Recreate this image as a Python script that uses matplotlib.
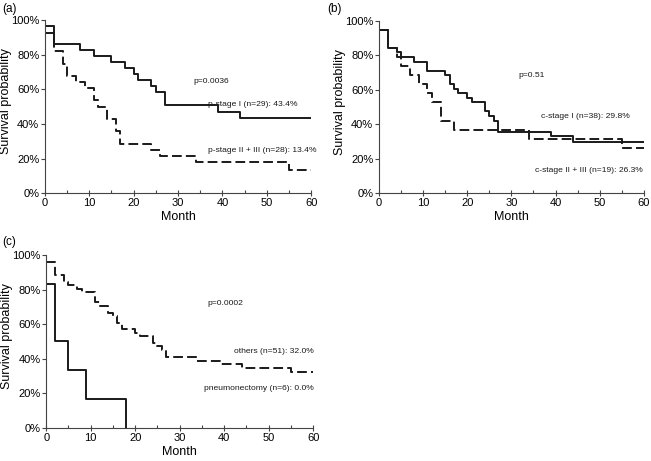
"""Kaplan-Meier style survival curves, three panels (a), (b), (c)."""
import matplotlib
matplotlib.use("Agg")
import matplotlib.pyplot as plt
from matplotlib.ticker import MultipleLocator, PercentFormatter

plt.rcParams["font.family"] = ["Liberation Sans", "DejaVu Sans"]
plt.rcParams["lines.scale_dashes"] = False

# ---- data (month of step, survival % after step) ----
a_solid_t = [0, 2, 8, 11, 15, 18, 20, 21, 24, 25, 27, 39, 44, 60]
a_solid_s = [96.6, 86.2, 82.8, 79.3, 75.9, 72.4, 69.0, 65.5, 62.1, 58.6, 50.8, 47.0, 43.4, 43.4]
a_dash_t = [0, 2, 4, 5, 7, 9, 11, 12, 14, 16, 17, 24, 26, 34, 55, 60]
a_dash_s = [92.9, 82.1, 75.0, 67.9, 64.3, 60.7, 53.6, 50.0, 42.9, 35.7, 28.6, 25.0, 21.4, 17.9, 13.4, 13.4]

b_solid_t = [0, 2, 4, 5, 8, 11, 15, 16, 17, 18, 20, 21, 24, 25, 26, 27, 39, 44, 60]
b_solid_s = [94.7, 84.2, 81.6, 78.9, 76.3, 71.1, 68.4, 63.2, 60.5, 57.9, 55.3, 52.6, 47.4, 44.7,
             42.1, 35.6, 33.0, 29.8, 29.8]
b_dash_t = [0, 2, 4, 5, 7, 9, 11, 12, 14, 17, 34, 55, 60]
b_dash_s = [94.7, 84.2, 78.9, 73.7, 68.4, 63.2, 57.9, 52.6, 42.1, 36.8, 31.6, 26.3, 26.3]

c_solid_t = [0, 2, 5, 9, 18]
c_solid_s = [83.3, 50.0, 33.3, 16.7, 0.0]
c_dash_t = [0, 2, 4, 5, 7, 8, 11, 12, 14, 15, 16, 17, 20, 21, 24, 25, 26, 27, 34, 39, 44, 55, 60]
c_dash_s = [96.1, 88.2, 84.3, 82.4, 80.4, 78.4, 72.5, 70.6, 66.7, 64.7, 60.8, 56.9, 54.9, 52.9,
            49.0, 47.1, 45.1, 40.9, 38.8, 36.7, 34.6, 32.0, 32.0]

PANELS = [
    {"tag": "(a)", "tag_xy": (2, 3), "rect": [0.069, 0.581, 0.409, 0.375],
     "solid": (a_solid_t, a_solid_s), "dash": (a_dash_t, a_dash_s),
     "texts": [(33.4, 64.7, "p=0.0036"),
               (36.8, 51.0, "p-stage I (n=29): 43.4%"),
               (36.8, 24.9, "p-stage II + III (n=28): 13.4%")]},
    {"tag": "(b)", "tag_xy": (327, 3), "rect": [0.582, 0.581, 0.407, 0.374],
     "solid": (b_solid_t, b_solid_s), "dash": (b_dash_t, b_dash_s),
     "texts": [(31.7, 68.3, "p=0.51"),
               (36.6, 44.7, "c-stage I (n=38): 29.8%"),
               (35.4, 13.2, "c-stage II + III (n=19): 26.3%")]},
    {"tag": "(c)", "tag_xy": (2, 236), "rect": [0.071, 0.072, 0.410, 0.375],
     "solid": (c_solid_t, c_solid_s), "dash": (c_dash_t, c_dash_s),
     "texts": [(36.2, 71.8, "p=0.0002"),
               (42.3, 44.3, "others (n=51): 32.0%"),
               (35.5, 22.8, "pneumonectomy (n=6): 0.0%")]},
]

INK = "#1a1a1a"
AXC = "#444444"
W, H = 651, 461

fig = plt.figure(figsize=(W / 100, H / 100), dpi=100)

for p in PANELS:
    ax = fig.add_axes(p["rect"])
    t, s = p["dash"]
    ax.step(t, s, where="post", color=INK, lw=1.4, linestyle=(0, (7, 3)))
    t, s = p["solid"]
    ax.step(t, s, where="post", color=INK, lw=1.4)

    ax.set_xlim(0, 60)
    ax.set_ylim(0, 100)
    for side in ("top", "right"):
        ax.spines[side].set_visible(False)
    for side in ("left", "bottom"):
        ax.spines[side].set_color(AXC)
        ax.spines[side].set_linewidth(0.8)

    ax.xaxis.set_major_locator(MultipleLocator(10))
    ax.xaxis.set_minor_locator(MultipleLocator(5))
    ax.yaxis.set_major_locator(MultipleLocator(20))
    ax.yaxis.set_major_formatter(PercentFormatter(decimals=0))
    ax.tick_params(axis="x", which="major", direction="inout", length=5,
                   width=0.8, color=AXC, labelsize=8, pad=1)
    ax.tick_params(axis="x", which="minor", direction="in", length=2.5,
                   width=0.8, color=AXC)
    ax.tick_params(axis="y", which="major", direction="out", length=3,
                   width=0.8, color=AXC, labelsize=8, pad=1)
    ax.set_xlabel("Month", fontsize=9, va="top")
    ax.xaxis.set_label_coords(0.5, -0.105)
    ax.set_ylabel("Survival probability", fontsize=9)
    ax.yaxis.set_label_coords(-0.125, 0.53)

    for x, y, txt in p["texts"]:
        ax.text(x, y, txt, fontsize=6.1, color=INK, va="center", ha="left")

    tx, ty = p["tag_xy"]
    fig.text(tx / W, 1 - ty / H, p["tag"], fontsize=8.5, ha="left", va="top")

fig.savefig("out.png", dpi=100)
